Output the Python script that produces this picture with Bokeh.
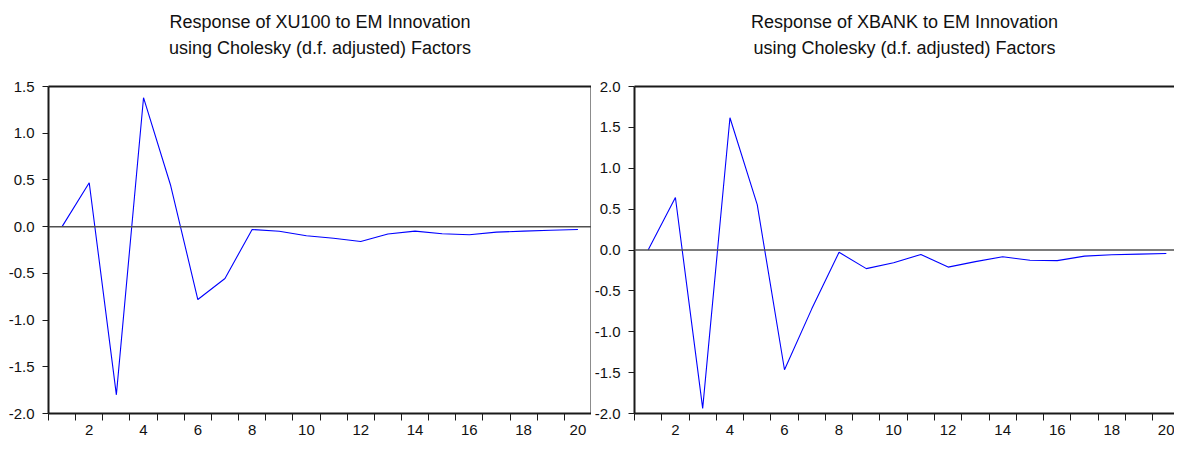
from bokeh.plotting import figure
from bokeh.models import (FixedTicker, PrintfTickFormatter, Range1d, Span, Title, LinearAxis)
from bokeh.layouts import row
from bokeh.embed import file_html
from bokeh.resources import INLINE

# ---- data ----
periods = list(range(1, 21))
xu100 = [0.0, 0.47, -1.80, 1.38, 0.44, -0.78, -0.555, -0.03, -0.05, -0.097,
         -0.124, -0.159, -0.079, -0.048, -0.076, -0.086, -0.059, -0.048, -0.038, -0.031]
xbank = [0.0, 0.642, -1.937, 1.618, 0.555, -1.465, -0.72, -0.028, -0.228, -0.157,
         -0.055, -0.209, -0.142, -0.083, -0.126, -0.130, -0.075, -0.059, -0.051, -0.043]
left_title = ["Response of XU100 to EM Innovation",
              "using Cholesky (d.f. adjusted) Factors"]
right_title = ["Response of XBANK to EM Innovation",
               "using Cholesky (d.f. adjusted) Factors"]
left_yticks = [-2.0, -1.5, -1.0, -0.5, 0.0, 0.5, 1.0, 1.5]
right_yticks = [-2.0, -1.5, -1.0, -0.5, 0.0, 0.5, 1.0, 1.5, 2.0]
x_label_ticks = [2, 4, 6, 8, 10, 12, 14, 16, 18, 20]
x_bound_ticks = [i + 0.5 for i in range(0, 21)]

FONT = "Liberation Sans"
AXC = "#1a1a1a"
TXT = "#111111"


def blank_axis(tick_out, spacer=False):
    if spacer:
        ax = LinearAxis(ticker=FixedTicker(ticks=[10], minor_ticks=[]),
                        major_label_overrides={10: ""})
        ax.major_label_text_font_size = "1px"
    else:
        ax = LinearAxis(ticker=FixedTicker(ticks=[], minor_ticks=[]))
    ax.major_tick_out = tick_out
    ax.major_tick_in = 0
    ax.minor_tick_out = 0
    ax.minor_tick_in = 0
    ax.major_tick_line_color = None
    ax.minor_tick_line_color = None
    ax.major_label_standoff = 0
    ax.axis_line_color = AXC
    ax.axis_line_width = 2
    return ax


def make(values, title_lines, yticks, y0, y1, x1, width, mbl, mbr, right_border):
    p = figure(width=width, height=437, output_backend="svg", toolbar_location=None,
               x_range=Range1d(0.5, x1), y_range=Range1d(y0, y1),
               min_border_left=mbl, min_border_right=mbr,
               min_border_top=86, min_border_bottom=0)
    p.xgrid.visible = False
    p.ygrid.visible = False
    p.background_fill_color = "white"
    p.border_fill_color = "white"
    p.outline_line_color = None

    xa = p.below[0]
    ya = p.left[0]

    ya.ticker = FixedTicker(ticks=yticks, minor_ticks=[])
    ya.formatter = PrintfTickFormatter(format="%.1f")
    ya.major_tick_out = 6
    ya.major_tick_in = 0
    ya.major_label_standoff = 8
    ya.axis_line_color = AXC
    ya.axis_line_width = 2
    ya.major_tick_line_color = AXC
    ya.major_label_text_font = FONT
    ya.major_label_text_font_size = "15px"
    ya.major_label_text_color = TXT

    xa.ticker = FixedTicker(ticks=x_label_ticks, minor_ticks=x_bound_ticks)
    xa.major_tick_line_color = None
    xa.major_tick_out = 7
    xa.major_tick_in = 0
    xa.minor_tick_out = 7
    xa.minor_tick_in = 0
    xa.minor_tick_line_color = AXC
    xa.major_label_standoff = 4
    xa.axis_line_color = AXC
    xa.axis_line_width = 2
    xa.major_label_text_font = FONT
    xa.major_label_text_font_size = "15px"
    xa.major_label_text_color = TXT

    # top border (also acts as spacer below the titles)
    p.add_layout(blank_axis(27, spacer=True), "above")

    # titles (first added = closest to plot)
    p.add_layout(Title(text=title_lines[1], align="center", text_font=FONT,
                       text_font_size="18px", text_font_style="normal",
                       text_color=TXT, standoff=4), "above")
    p.add_layout(Title(text=title_lines[0], align="center", text_font=FONT,
                       text_font_size="18px", text_font_style="normal",
                       text_color=TXT, standoff=3), "above")

    if right_border:
        p.add_layout(blank_axis(0), "right")

    p.add_layout(Span(location=0, dimension="width", line_color="#505050", line_width=1.5))
    p.line(periods, values, line_color="#0000FF", line_width=1.1)
    return p


p1 = make(xu100, left_title, left_yticks, -2.0, 1.5, 20.5, 591, 48, 0, True)
p2 = make(xbank, right_title, right_yticks, -2.0, 2.0, 20.3, 583, 41, 0, False)

layout = row(p1, p2)
open("out.html", "w").write(file_html(layout, INLINE))
